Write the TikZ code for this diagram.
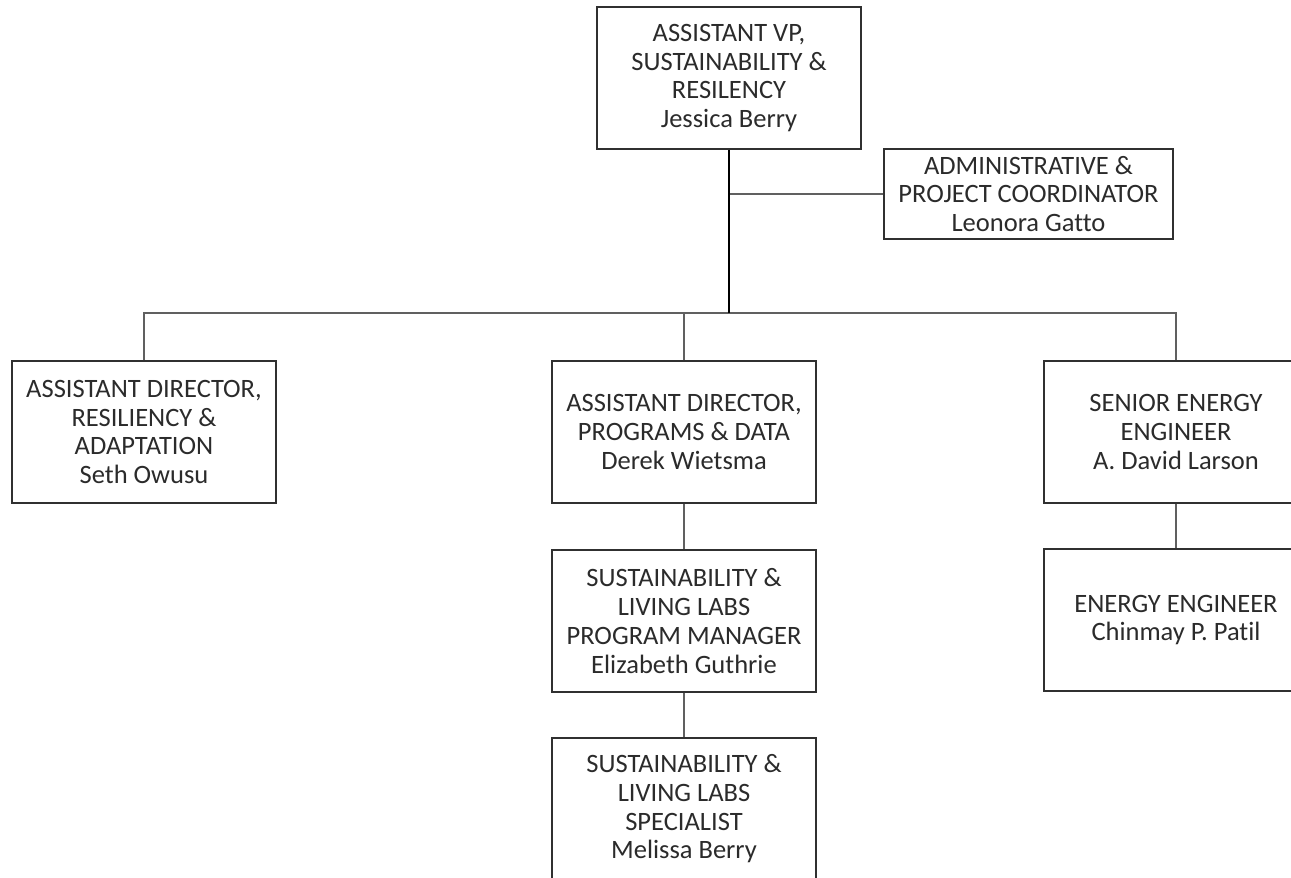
\documentclass[tikz,border=0pt]{standalone}
\usepackage{fontspec}
\setmainfont{Carlito}[Ligatures=NoCommon]
\definecolor{boxline}{HTML}{303030}
\definecolor{conn}{HTML}{606060}
\definecolor{txt}{HTML}{2B2B2B}
\begin{document}
\begin{tikzpicture}[x=1pt,y=-1pt,
  box/.style={draw=boxline,line width=1.4pt,fill=white,minimum width=264pt,minimum height=142pt,
    inner sep=0pt,align=center,text=txt,font=\fontsize{26.5}{28.7}\selectfont},
  wide/.style={box,minimum width=289pt,minimum height=90pt},
  link/.style={draw=conn,line width=1.1pt},
  mainlink/.style={draw=black,line width=2pt}]
\useasboundingbox (0,0) rectangle (1291,878);
\clip (0,0) rectangle (1291,878);
\node[box] (top) at (729,78) {ASSISTANT VP,\\SUSTAINABILITY \&\\RESILENCY\\Jessica Berry};
\node[wide] (admin) at (1028.5,194) {ADMINISTRATIVE \&\\PROJECT COORDINATOR\\Leonora Gatto};
\coordinate (bus) at (729,313);
\node[box] (ad1) at (144,432) {ASSISTANT DIRECTOR,\\RESILIENCY \&\\ADAPTATION\\Seth Owusu};
\node[box] (ad2) at (684,432) {ASSISTANT DIRECTOR,\\PROGRAMS \& DATA\\Derek Wietsma};
\node[box] (sen) at (1176,432) {SENIOR ENERGY\\ENGINEER\\A. David Larson};
\node[box] (plm) at (684,621) {SUSTAINABILITY \&\\LIVING LABS\\PROGRAM MANAGER\\Elizabeth Guthrie};
\node[box] (eng) at (1176,620) {ENERGY ENGINEER\\Chinmay P. Patil};
\node[box] (spec) at (684,809) {SUSTAINABILITY \&\\LIVING LABS\\SPECIALIST\\Melissa Berry};
\draw[link] (admin.west) -- (admin.west -| top.south);
\draw[link] (ad1.north) |- (bus) -| (sen.north);
\draw[link] (ad2.north) -- (ad2.north |- bus);
\draw[mainlink] (top.south) -- (bus);
\draw[link] (ad2.south) -- (plm.north);
\draw[link] (plm.south) -- (spec.north);
\draw[link] (sen.south) -- (eng.north);
\end{tikzpicture}
\end{document}
